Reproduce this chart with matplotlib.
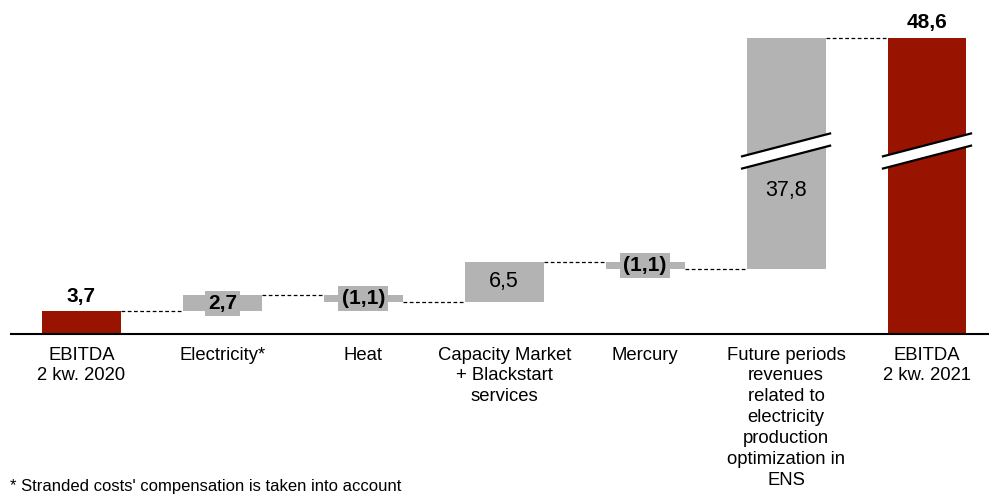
import numpy as np
import matplotlib.pyplot as plt
from matplotlib.patches import Polygon

plt.rcParams['font.family'] = ['Liberation Sans', 'DejaVu Sans']

# Dane
categories = ['EBITDA\n2 kw. 2020', 'Electricity*', 'Heat',
              'Capacity Market\n+ Blackstart\nservices', 'Mercury',
              'Future periods\nrevenues\nrelated to\nelectricity\nproduction\noptimization in\nENS',
              'EBITDA\n2 kw. 2021']
start_value = 3.7
changes = [2.7, -1.1, 6.5, -1.1, 37.8]
end_value = 48.6
value_labels = ['3,7', '2,7', '(1,1)', '6,5', '(1,1)', '37,8', '48,6']

red = '#981300'
gray = '#b3b3b3'

# Przygotowanie słupków
levels = start_value + np.cumsum(changes)
prev = np.concatenate([[start_value], levels[:-1]])
bottoms = [0] + list(np.minimum(prev, levels)) + [0]
heights = [start_value] + list(np.abs(changes)) + [end_value]
colors = [red] + [gray] * len(changes) + [red]
x = np.arange(len(categories))
w = 0.56

fig = plt.figure(figsize=(9.89, 4.95), dpi=100)
ax = fig.add_axes([11 / 989, 161 / 495, 978 / 989, 334 / 495])
ax.bar(x, heights, w, bottom=bottoms, color=colors, zorder=2)

# Linie łączące
tops = [start_value] + list(levels) + [end_value]
for i in range(len(x) - 1):
    ax.plot([x[i] + w / 2, x[i + 1] - w / 2], [tops[i], tops[i]],
            color='black', lw=0.9, ls=(0, (3, 2)), zorder=1)

# Etykiety wartości
for i, lab in enumerate(value_labels):
    if i == 0 or i == len(x) - 1:
        ax.annotate(lab, (x[i], heights[i]), xytext=(0, 4), textcoords='offset points',
                    ha='center', va='bottom', fontsize=15, fontweight='bold')
    elif heights[i] < 3:
        ax.text(x[i], bottoms[i] + heights[i] / 2, lab, ha='center', va='center',
                fontsize=15, fontweight='bold', zorder=4,
                bbox=dict(boxstyle='square,pad=0.15', fc=gray, ec='none'))
    elif heights[i] > 30:
        ax.text(x[i], bottoms[i] + heights[i] * 0.34, lab, ha='center', va='center',
                fontsize=15.5, zorder=4)
    else:
        ax.text(x[i], bottoms[i] + heights[i] / 2, lab, ha='center', va='center',
                fontsize=15.5, zorder=4)

# Przerwanie osi
for xb in [x[-2], x[-1]]:
    dx, yc, rise, th = 0.32, 30.0, 1.92, 1.0
    pts = [(xb - dx, yc - rise - th), (xb + dx, yc + rise - th),
           (xb + dx, yc + rise + th), (xb - dx, yc - rise + th)]
    ax.add_patch(Polygon(pts, closed=True, fc='white', ec='none', zorder=3))
    for s in (-th, th):
        ax.plot([xb - dx, xb + dx], [yc - rise + s, yc + rise + s],
                color='black', lw=1.6, zorder=3, solid_capstyle='butt')

ax.set_xlim(-0.5, 6.44)
ax.set_ylim(0, 334 / 6.1)
ax.set_xticks(x)
ax.set_xticklabels(categories, fontsize=13.3, linespacing=1.3)
ax.tick_params(axis='x', length=0, pad=9)
ax.set_yticks([])
for s in ['top', 'left', 'right']:
    ax.spines[s].set_visible(False)
ax.spines['bottom'].set_linewidth(1.5)
ax.spines['bottom'].set_zorder(5)

fig.text(10 / 989, 0.008, "* Stranded costs' compensation is taken into account",
         fontsize=12, va='baseline', ha='left')

fig.savefig('out.png', dpi=100)
